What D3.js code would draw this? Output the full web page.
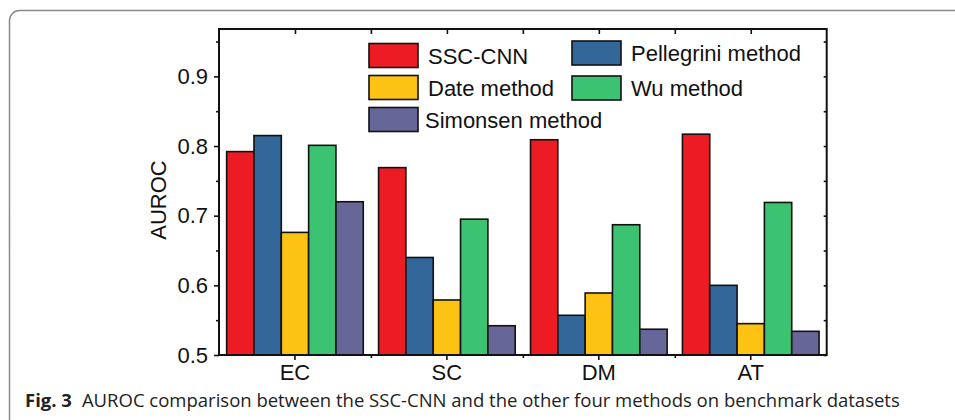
<!DOCTYPE html>
<html>
<head>
<meta charset="utf-8">
<script src="https://cdn.jsdelivr.net/npm/d3@7"></script>
<style>
  body { margin: 0; background: #fff; }
  svg text { font-family: "Liberation Sans", Arial, sans-serif; }
</style>
</head>
<body>
<svg id="chart" width="955" height="420"></svg>
<script>
// data
var datasets = ['EC', 'SC', 'DM', 'AT'];
var methods = ['SSC-CNN', 'Pellegrini method', 'Date method', 'Wu method', 'Simonsen method'];
var sscCnn     = [0.792, 0.769, 0.809, 0.817];
var pellegrini = [0.815, 0.640, 0.557, 0.600];
var dateM      = [0.676, 0.579, 0.589, 0.545];
var wu         = [0.801, 0.695, 0.687, 0.719];
var simonsen   = [0.720, 0.542, 0.537, 0.534];
var yTicks = [0.5, 0.6, 0.7, 0.8, 0.9];
var colors = ['#ed1c24', '#336699', '#fcc314', '#3cc372', '#666699'];

(function() {
  var series = [sscCnn, pellegrini, dateM, wu, simonsen];
  var svg = d3.select('#chart');

  // outer figure frame
  svg.append('rect')
    .attr('x', 9.5).attr('y', 10.5)
    .attr('width', 980).attr('height', 440)
    .attr('rx', 10)
    .attr('fill', 'none')
    .attr('stroke', '#8a8a8a')
    .attr('stroke-width', 1.5);

  var pLeft = 219, pRight = 826.7, pTop = 29, pBottom = 355;

  var x0 = d3.scaleBand().domain(datasets).range([pLeft, pRight]).padding(0);
  var x1 = d3.scaleBand().domain(d3.range(methods.length))
    .range([0, x0.bandwidth()]).paddingInner(0).paddingOuter(0.28);
  var y = d3.scaleLinear().domain([0.5, 0.968]).range([pBottom, pTop]);

  // bars
  var groups = svg.append('g').selectAll('g')
    .data(datasets)
    .enter().append('g')
    .attr('transform', function(d) { return 'translate(' + x0(d) + ',0)'; });

  groups.selectAll('rect')
    .data(function(d, i) {
      return series.map(function(s, j) { return { m: j, v: s[i] }; });
    })
    .enter().append('rect')
    .attr('x', function(d) { return x1(d.m); })
    .attr('y', function(d) { return y(d.v); })
    .attr('width', x1.bandwidth())
    .attr('height', function(d) { return y(0.5) - y(d.v); })
    .attr('fill', function(d) { return colors[d.m]; })
    .attr('stroke', '#111')
    .attr('stroke-width', 1.6);

  // axes
  var minor = [0.55, 0.65, 0.75, 0.85, 0.95];
  var boundaries = datasets.slice(1).map(function(d) { return x0(d); });
  var xLin = d3.scaleLinear().domain([pLeft, pRight]).range([pLeft, pRight]);

  var yAxis = svg.append('g')
    .attr('transform', 'translate(' + pLeft + ',0)')
    .call(d3.axisLeft(y).tickValues(yTicks).tickFormat(d3.format('.1f')).tickSize(5).tickPadding(6));
  var yMinor = svg.append('g')
    .attr('transform', 'translate(' + pLeft + ',0)')
    .call(d3.axisLeft(y).tickValues(minor).tickFormat('').tickSize(3));
  var yRight = svg.append('g')
    .attr('transform', 'translate(' + pRight + ',0)')
    .call(d3.axisLeft(y).tickValues(yTicks.concat(minor)).tickFormat('').tickSize(3));

  var xAxis = svg.append('g')
    .attr('transform', 'translate(0,' + pBottom + ')')
    .call(d3.axisBottom(x0).tickSize(5).tickPadding(4));
  var xMinor = svg.append('g')
    .attr('transform', 'translate(0,' + pBottom + ')')
    .call(d3.axisBottom(xLin).tickValues(boundaries).tickFormat('').tickSize(3));
  var xTop = svg.append('g')
    .attr('transform', 'translate(0,' + pTop + ')')
    .call(d3.axisBottom(xLin)
      .tickValues(datasets.map(function(d) { return x0(d) + x0.bandwidth() / 2; }).concat(boundaries))
      .tickFormat('').tickSize(5));

  [yAxis, yMinor, yRight, xAxis, xMinor, xTop].forEach(function(a) {
    a.select('.domain').remove();
    a.selectAll('line').attr('stroke', '#111').attr('stroke-width', 1.6);
    a.selectAll('text').attr('fill', '#111').style('font-size', '22px');
  });

  // frame of plot area
  svg.append('rect')
    .attr('x', pLeft).attr('y', pTop)
    .attr('width', pRight - pLeft).attr('height', pBottom - pTop)
    .attr('fill', 'none')
    .attr('stroke', '#111')
    .attr('stroke-width', 2);

  svg.append('text')
    .attr('transform', 'translate(166,200) rotate(-90)')
    .attr('text-anchor', 'middle')
    .style('font-size', '22px')
    .attr('fill', '#111')
    .text('AUROC');

  // legend, two columns
  var legendPos = [
    { x: 369, y: 43.5 },
    { x: 572, y: 41 },
    { x: 369, y: 75.5 },
    { x: 572, y: 76 },
    { x: 369, y: 107.5 }
  ];
  var leg = svg.append('g').selectAll('g')
    .data(methods)
    .enter().append('g')
    .attr('transform', function(d, i) { return 'translate(' + legendPos[i].x + ',' + legendPos[i].y + ')'; });
  leg.append('rect')
    .attr('width', 49).attr('height', 24)
    .attr('fill', function(d, i) { return colors[i]; })
    .attr('stroke', '#111')
    .attr('stroke-width', 1.6);
  leg.append('text')
    .attr('x', function(d, i) { return i === 4 ? 56 : 59; })
    .attr('y', 20)
    .style('font-size', '22px')
    .attr('fill', '#111')
    .text(function(d) { return d; });

  // caption
  var cap = svg.append('text')
    .attr('x', 25).attr('y', 407)
    .style('font-family', '"Open Sans", sans-serif')
    .style('font-size', '18.5px')
    .attr('fill', '#222');
  cap.append('tspan').style('font-weight', 'bold').text('Fig. 3');
  cap.append('tspan').attr('dx', 10).text('AUROC comparison between the SSC-CNN and the other four methods on benchmark datasets');
})();
</script>
</body>
</html>
